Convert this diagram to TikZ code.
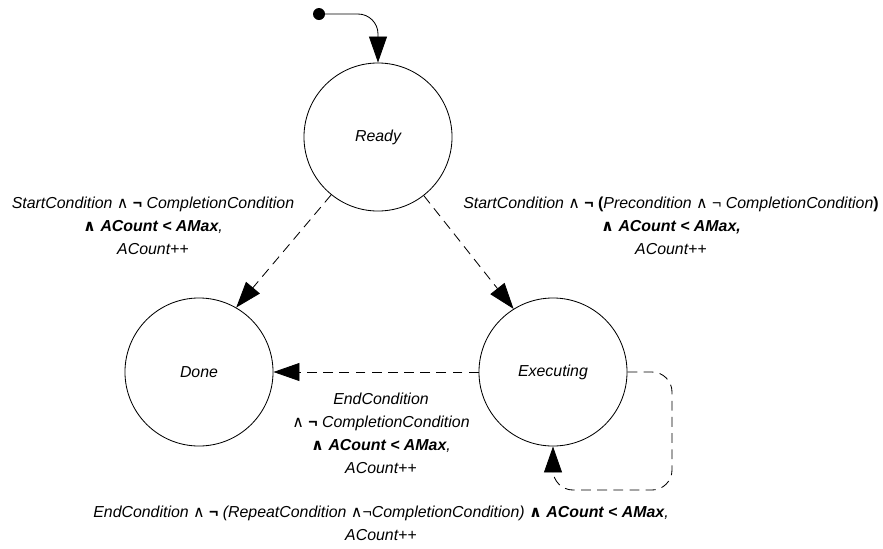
\documentclass[tikz,border=0pt]{standalone}
\usepackage{fontspec}
\setmainfont{Liberation Sans}
\newfontfamily\symfont{DejaVu Sans}
\usetikzlibrary{arrows.meta}
\newcommand{\andsym}{{\symfont\upshape ∧}}
\newcommand{\notsym}{{\bfseries\upshape ¬}}

\begin{document}
\begin{tikzpicture}[x=0.025cm, y=-0.025cm, line width=0.6pt,
  every node/.style={font=\fontsize{11.3}{16.4}\selectfont\itshape, align=center, inner sep=0pt},
  state/.style={draw, circle, minimum size=3.7cm},
  trans/.style={dash pattern=on 7pt off 4.5pt, -{Triangle[length=0.65cm,width=0.45cm]}}]
\useasboundingbox (0,0) rectangle (883,548);

\node[circle, fill, minimum size=0.3cm] (init) at (319,14) {};
\node[state] (ready) at (378,137) {Ready};
\node[state] (done) at (199,372) {Done};
\node[state] (exec) at (553,372) {Executing};
\coordinate (loop) at (672,490);

\draw[-{Triangle[length=0.65cm,width=0.45cm]}, rounded corners=0.5cm] (init.center) -| (ready.north);
\draw[trans] (ready.231) -- (done.60);
\draw[trans] (ready.308) -- (exec.122);
\draw[trans] (exec.west) -- (done.east);
\draw[trans, rounded corners=0.5cm] (exec.east) -| (loop) -| (exec.south);

\node (lblstart) at (153,226) {StartCondition \andsym{} \notsym{} CompletionCondition\\ \textbf{\andsym{} ACount < AMax},\\ ACount++};
\node (lblexec) at (671,226) {StartCondition \andsym{} \notsym{} {\bfseries\upshape (}Precondition \andsym{} ¬ CompletionCondition{\bfseries\upshape )}\\ \textbf{\andsym{} ACount < AMax,}\\ ACount++};
\node (lblend) at (381,433) {EndCondition\\ \andsym{} \notsym{} CompletionCondition\\ \textbf{\andsym{} ACount < AMax},\\ ACount++};
\node (lblloop) at (381,523) {EndCondition \andsym{} \notsym{} (RepeatCondition \andsym¬CompletionCondition) \textbf{\andsym{} ACount < AMax},\\ ACount++};
\end{tikzpicture}
\end{document}
